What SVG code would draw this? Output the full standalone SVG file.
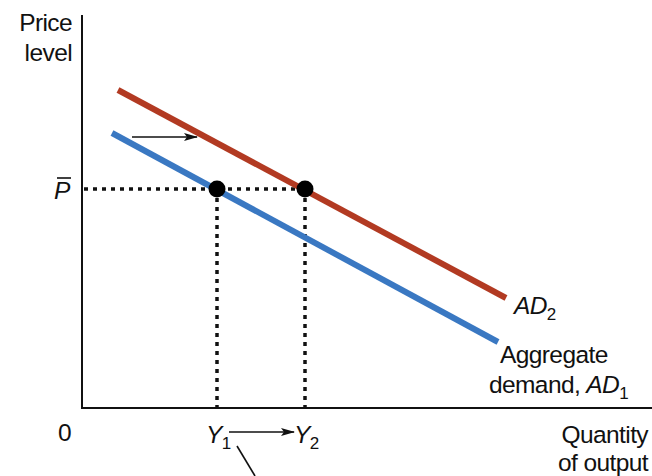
<svg xmlns="http://www.w3.org/2000/svg" width="652" height="476" viewBox="0 0 652 476">
<style>
text{font-family:"Liberation Sans",Arial,sans-serif;font-size:24.5px;letter-spacing:-0.6px;fill:#111}
.i{font-style:italic}
.s{font-size:17px;font-style:normal}
.ax{stroke:#111;stroke-width:2;fill:none}
.dot{stroke:#111;stroke-width:3.5;stroke-dasharray:4 5;fill:none}
.thin{stroke:#111;stroke-width:1.6;fill:none}
</style>
<defs>
<marker id="ah" viewBox="0 0 14 10" refX="13" refY="5" markerWidth="14" markerHeight="10" markerUnits="userSpaceOnUse" orient="auto">
<path d="M0,1 L14,5 L0,9 L3,5 Z" fill="#111"/>
</marker>
</defs>
<g id="axes">
<line class="ax" x1="82" y1="15" x2="82" y2="409"/>
<line class="ax" x1="81" y1="408" x2="652" y2="408"/>
<text x="72" y="31" text-anchor="end">Price</text>
<text x="72" y="61" text-anchor="end">level</text>
<text x="58" y="441">0</text>
<text x="648" y="443" text-anchor="end">Quantity</text>
<text x="648" y="471" text-anchor="end">of output</text>
</g>
<g id="connectors">
<line class="dot" x1="84" y1="189" x2="305" y2="189"/>
<line class="dot" x1="217" y1="189" x2="217" y2="407"/>
<line class="dot" x1="305" y1="189" x2="305" y2="407"/>
<line class="thin" x1="132" y1="137" x2="197" y2="137" marker-end="url(#ah)"/>
<line class="thin" x1="229" y1="432" x2="294" y2="432" marker-end="url(#ah)"/>
<line class="thin" x1="237" y1="446" x2="255" y2="476"/>
</g>
<g id="AD1">
<line x1="112" y1="133" x2="498" y2="342" stroke="#3a78c2" stroke-width="6"/>
<text x="500" y="363">Aggregate</text>
<text x="489" y="393">demand, <tspan class="i">AD</tspan><tspan class="s" dy="6">1</tspan></text>
</g>
<g id="AD2">
<line x1="118" y1="90" x2="506" y2="298" stroke="#b23a22" stroke-width="6"/>
<text x="514" y="314" class="i">AD<tspan class="s" dy="6">2</tspan></text>
</g>
<g id="Pbar">
<text x="54" y="199" class="i">P</text>
<line x1="57" y1="178" x2="71" y2="178" stroke="#111" stroke-width="1.6"/>
</g>
<g id="E1"><circle cx="217" cy="189" r="8.5" fill="#000"/></g>
<g id="E2"><circle cx="305" cy="189" r="8.5" fill="#000"/></g>
<g id="Y1"><text x="206" y="443" class="i">Y<tspan class="s" dy="6">1</tspan></text></g>
<g id="Y2"><text x="294" y="443" class="i">Y<tspan class="s" dy="6">2</tspan></text></g>
</svg>
